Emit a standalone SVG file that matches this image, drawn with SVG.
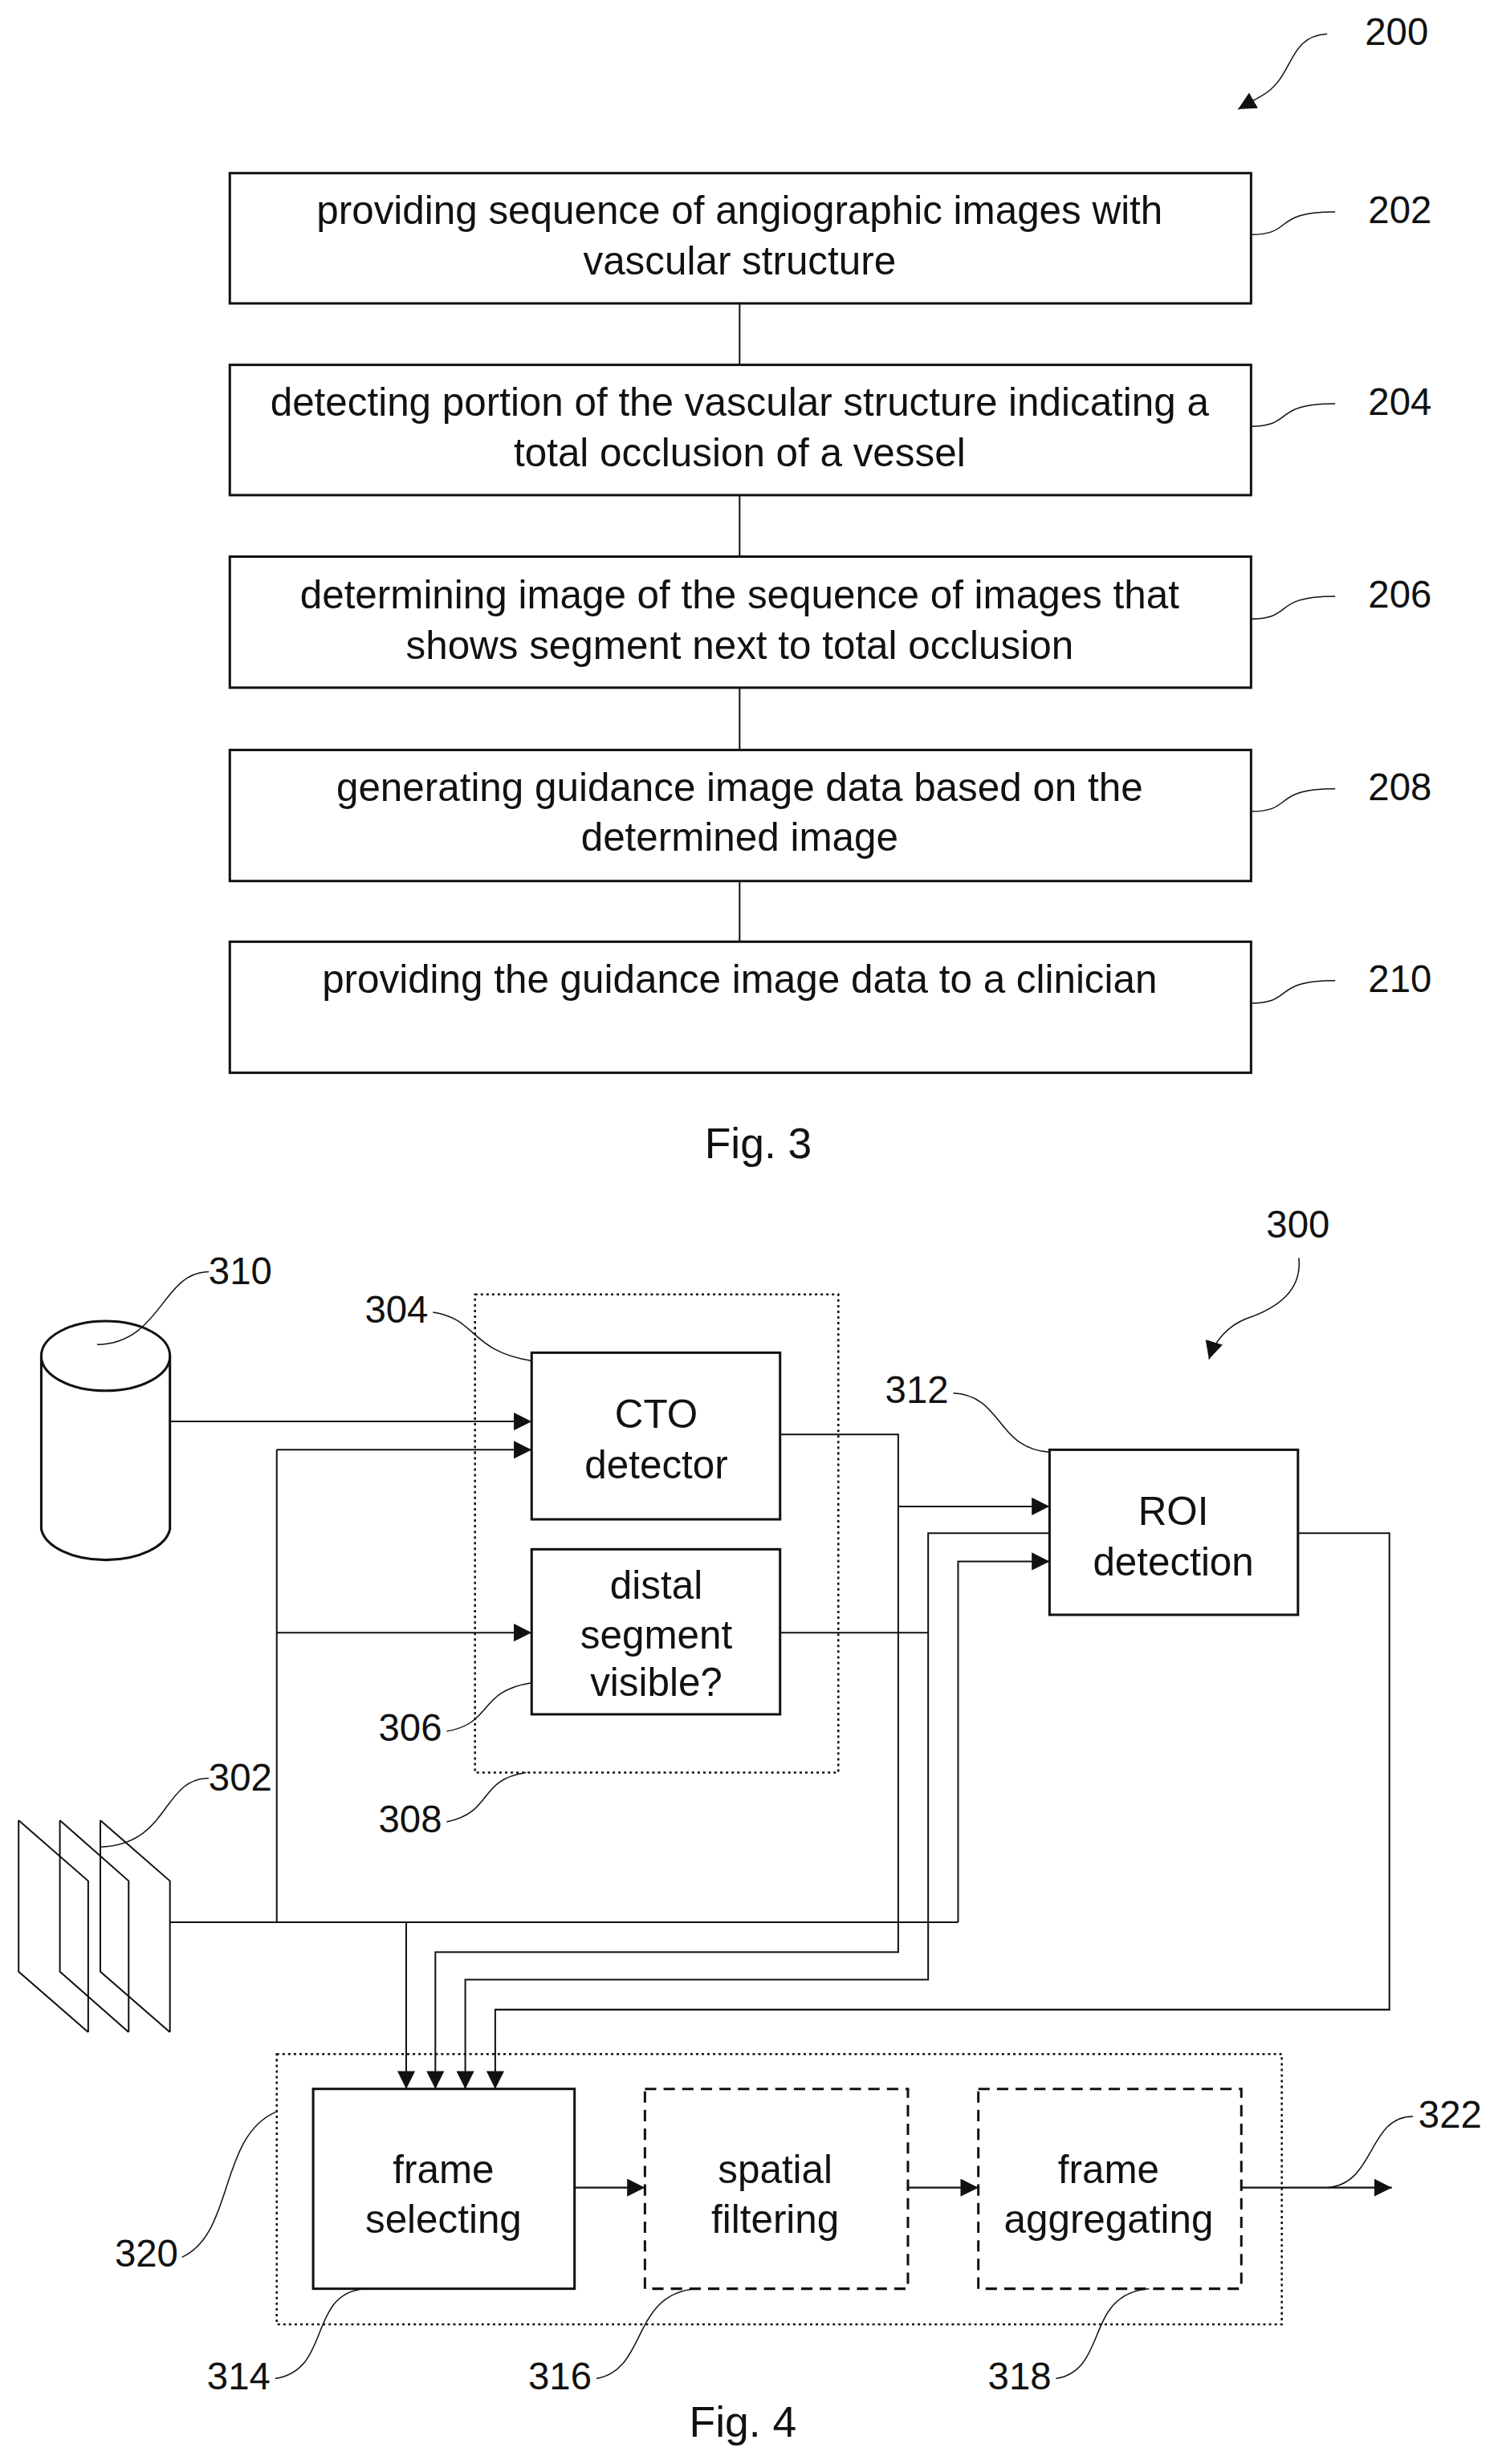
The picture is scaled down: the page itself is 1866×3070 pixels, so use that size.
<svg xmlns="http://www.w3.org/2000/svg" width="1866" height="3070" viewBox="0 0 1866 3070">
<style>
text{font-family:"Liberation Sans",Arial,sans-serif;fill:#111;text-anchor:middle}
.t{font-size:49px}
.l{font-size:47px}
.f{font-size:53px}
.b{fill:#fff;stroke:#111;stroke-width:3}
.dash{fill:none;stroke:#111;stroke-width:3;stroke-dasharray:14 9}
.dot{fill:none;stroke:#111;stroke-width:2.5;stroke-dasharray:3 4}
.c{fill:none;stroke:#111;stroke-width:2}
.ld{fill:none;stroke:#111;stroke-width:1.5}
</style>
<defs>
<marker id="a2" viewBox="0 0 10 10" refX="10" refY="5" markerWidth="22" markerHeight="22" markerUnits="userSpaceOnUse" orient="auto"><path d="M0,0L10,5L0,10z" fill="#111"/></marker>
</defs>
<g transform="scale(1.008)">
<g id="connectors3">
<line class="c" x1="914" y1="375" x2="914" y2="451"/>
<line class="c" x1="914" y1="612" x2="914" y2="688"/>
<line class="c" x1="914" y1="850" x2="914" y2="927"/>
<line class="c" x1="914" y1="1089" x2="914" y2="1164"/>
</g>
<g id="n202"><rect class="b" x="284" y="214" width="1262" height="161"/><text class="t" x="914" y="277">providing sequence of angiographic images with</text><text class="t" x="914" y="339">vascular structure</text></g>
<g id="n204"><rect class="b" x="284" y="451" width="1262" height="161"/><text class="t" x="914" y="514">detecting portion of the vascular structure indicating a</text><text class="t" x="914" y="576">total occlusion of a vessel</text></g>
<g id="n206"><rect class="b" x="284" y="688" width="1262" height="162"/><text class="t" x="914" y="752">determining image of the sequence of images that</text><text class="t" x="914" y="814">shows segment next to total occlusion</text></g>
<g id="n208"><rect class="b" x="284" y="927" width="1262" height="162"/><text class="t" x="914" y="990">generating guidance image data based on the</text><text class="t" x="914" y="1052">determined image</text></g>
<g id="n210"><rect class="b" x="284" y="1164" width="1262" height="162"/><text class="t" x="914" y="1227">providing the guidance image data to a clinician</text></g>
<g id="labels3">
<text class="l" x="1726" y="56">200</text>
<path class="ld" d="M1640,42 C1590,45 1600,95 1560,118 L1530,135" marker-end="url(#a2)"/>
<text class="l" x="1730" y="276">202</text><path class="ld" d="M1546,290 C1600,290 1570,262 1650,262"/>
<text class="l" x="1730" y="513">204</text><path class="ld" d="M1546,527 C1600,527 1570,499 1650,499"/>
<text class="l" x="1730" y="751">206</text><path class="ld" d="M1546,765 C1600,765 1570,737 1650,737"/>
<text class="l" x="1730" y="989">208</text><path class="ld" d="M1546,1003 C1600,1003 1570,975 1650,975"/>
<text class="l" x="1730" y="1226">210</text><path class="ld" d="M1546,1240 C1600,1240 1570,1212 1650,1212"/>
<text class="f" x="937" y="1432">Fig. 3</text>
</g>
<g id="n310"><path class="b" d="M51,1676 L51,1890 A80,43 0 0 0 210,1890 L210,1676"/><ellipse class="b" cx="130.5" cy="1676" rx="79.5" ry="43"/></g>
<g id="n302">
<path class="c" d="M23,2250 L109,2325 L109,2512 M23,2250 L23,2437 L109,2512"/>
<path class="c" d="M74,2250 L159,2325 L159,2512 M74,2250 L74,2437 L159,2512"/>
<path class="c" d="M124,2250 L210,2325 L210,2512 M124,2250 L124,2437 L210,2512"/>
</g>
<g id="n308"><rect class="dot" x="587" y="1600" width="449" height="591"/></g>
<g id="n304"><rect class="b" x="657" y="1672" width="307" height="206"/><text class="t" x="811" y="1765">CTO</text><text class="t" x="811" y="1827">detector</text></g>
<g id="n306"><rect class="b" x="657" y="1915" width="307" height="204"/><text class="t" x="811" y="1976">distal</text><text class="t" x="811" y="2038">segment</text><text class="t" x="811" y="2096">visible?</text></g>
<g id="n312"><rect class="b" x="1297" y="1792" width="307" height="204"/><text class="t" x="1450" y="1885">ROI</text><text class="t" x="1450" y="1947">detection</text></g>
<g id="n320"><rect class="dot" x="342" y="2539" width="1242" height="334"/></g>
<g id="n314"><rect class="b" x="387" y="2582" width="323" height="247"/><text class="t" x="548" y="2698">frame</text><text class="t" x="548" y="2760">selecting</text></g>
<g id="n316"><rect class="dash" x="797" y="2582" width="325" height="247"/><text class="t" x="958" y="2698">spatial</text><text class="t" x="958" y="2760">filtering</text></g>
<g id="n318"><rect class="dash" x="1209" y="2582" width="325" height="247"/><text class="t" x="1370" y="2698">frame</text><text class="t" x="1370" y="2760">aggregating</text></g>
<g id="connectors4">
<path class="c" d="M210,1757 L657,1757" marker-end="url(#a2)"/>
<path class="c" d="M342,1792 L657,1792" marker-end="url(#a2)"/>
<path class="c" d="M342,2018 L657,2018" marker-end="url(#a2)"/>
<path class="c" d="M342,1792 L342,2376"/>
<path class="c" d="M210,2376 L1184,2376"/>
<path class="c" d="M964,1773 L1110,1773 L1110,2413 L538,2413 L538,2582" marker-end="url(#a2)"/>
<path class="c" d="M1110,1862 L1297,1862" marker-end="url(#a2)"/>
<path class="c" d="M964,2018 L1147,2018"/>
<path class="c" d="M1297,1895 L1147,1895 L1147,2447 L575,2447 L575,2582" marker-end="url(#a2)"/>
<path class="c" d="M1184,2376 L1184,1930 L1297,1930" marker-end="url(#a2)"/>
<path class="c" d="M502,2376 L502,2582" marker-end="url(#a2)"/>
<path class="c" d="M1604,1895 L1717,1895 L1717,2484 L612,2484 L612,2582" marker-end="url(#a2)"/>
<path class="c" d="M710,2704 L797,2704" marker-end="url(#a2)"/>
<path class="c" d="M1122,2704 L1209,2704" marker-end="url(#a2)"/>
<path class="c" d="M1534,2704 L1720,2704" marker-end="url(#a2)"/>
</g>
<g id="labels4">
<text class="l" x="1604" y="1530">300</text>
<path class="ld" d="M1605,1555 C1610,1600 1570,1620 1540,1630 C1515,1640 1500,1660 1494,1680" marker-end="url(#a2)"/>
<text class="l" x="297" y="1587">310</text><path class="ld" d="M258,1572 C200,1572 200,1660 120,1662"/>
<text class="l" x="490" y="1635">304</text><path class="ld" d="M535,1622 C590,1630 580,1670 657,1682"/>
<text class="l" x="1133" y="1734">312</text><path class="ld" d="M1178,1722 C1240,1725 1230,1790 1297,1795"/>
<text class="l" x="507" y="2152">306</text><path class="ld" d="M552,2140 C610,2130 590,2090 657,2080"/>
<text class="l" x="507" y="2265">308</text><path class="ld" d="M552,2252 C610,2240 590,2200 650,2191"/>
<text class="l" x="297" y="2213">302</text><path class="ld" d="M258,2198 C200,2198 210,2280 124,2283"/>
<text class="l" x="181" y="2802">320</text><path class="ld" d="M225,2790 C290,2760 270,2640 342,2610"/>
<text class="l" x="295" y="2953">314</text><path class="ld" d="M340,2940 C410,2930 380,2835 450,2829"/>
<text class="l" x="692" y="2953">316</text><path class="ld" d="M737,2940 C800,2930 780,2835 860,2829"/>
<text class="l" x="1260" y="2953">318</text><path class="ld" d="M1305,2940 C1370,2930 1340,2835 1420,2829"/>
<text class="l" x="1792" y="2630">322</text><path class="ld" d="M1746,2616 C1690,2616 1700,2700 1640,2704"/>
<text class="f" x="918" y="3012">Fig. 4</text>
</g>
</g>
</svg>
